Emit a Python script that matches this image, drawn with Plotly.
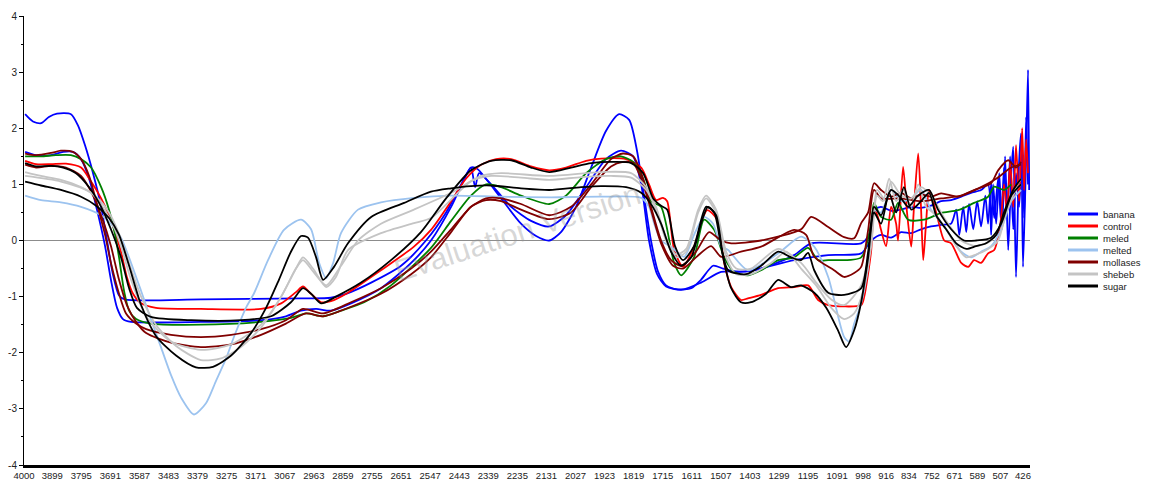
import plotly.graph_objects as go

# Wavenumber tick labels along the bottom axis (cm-1)
tick_wn = [4000, 3899, 3795, 3691, 3587, 3483, 3379, 3275, 3171, 3067, 2963, 2859,
           2755, 2651, 2547, 2443, 2339, 2235, 2131, 2027, 1923, 1819, 1715, 1611,
           1507, 1403, 1299, 1195, 1091, 998, 916, 834, 752, 671, 589, 507, 426]
y_ticks = [4, 3, 2, 1, 0, -1, -2, -3, -4]

# Spectra: (wavenumber, signal) pairs, two replicates for most samples
banana_a = [(3996, 2.25), (3968, 2.12), (3939, 2.09), (3911, 2.2), (3882, 2.26), (3832, 2.25),
            (3807, 2.05), (3782, 1.7), (3753, 1.2), (3724, 0.6), (3703, 0.0), (3682, -0.6),
            (3660, -0.98), (3639, -1.05), (3367, -1.05), (3009, -1.03), (2902, -1.02),
            (2848, -0.95), (2758, -0.75), (2651, -0.45), (2562, 0.0), (2490, 0.5), (2436, 1.0),
            (2401, 1.3), (2379, 1.28), (2347, 1.1), (2293, 0.75), (2222, 0.3), (2168, 0.08),
            (2121, 0.0), (2079, 0.15), (2025, 0.6), (1971, 1.3), (1918, 1.95), (1871, 2.25),
            (1835, 2.15), (1807, 1.6), (1782, 0.8), (1757, 0.0), (1732, -0.55), (1703, -0.8),
            (1660, -0.87), (1613, -0.85), (1578, -0.7), (1535, -0.45), (1499, -0.5),
            (1452, -0.56), (1363, -0.5), (1245, -0.26), (1184, -0.05), (1005, -0.05),
            (977, 0.1), (955, 0.55), (934, 0.6), (898, 0.53), (862, 0.55), (826, 0.6),
            (791, 0.58), (755, 0.62), (719, 0.7), (683, 0.72), (647, 0.78), (612, 0.85),
            (576, 0.9), (551, 1.0), (540, 0.1), (533, 1.0), (522, 0.3), (511, 1.2), (501, 0.2),
            (490, 1.5), (479, -0.17), (468, 1.2), (461, 1.67), (451, -0.65), (440, 1.4),
            (433, 1.91), (426, -0.47), (415, 1.5), (408, 3.04), (404, 0.9)]
banana_b = [(3996, 1.58), (3957, 1.52), (3903, 1.52), (3860, 1.58), (3825, 1.58), (3796, 1.45),
            (3767, 1.1), (3739, 0.55), (3710, -0.1), (3689, -0.7), (3667, -1.2), (3646, -1.4),
            (3617, -1.45), (3367, -1.45), (3152, -1.42), (3063, -1.35), (3009, -1.25),
            (2955, -1.22), (2902, -1.25), (2830, -1.12), (2723, -0.85), (2615, -0.4),
            (2544, 0.0), (2472, 0.6), (2429, 1.05), (2401, 1.3), (2386, 0.95), (2372, 1.2),
            (2329, 1.0), (2257, 0.6), (2186, 0.35), (2121, 0.25), (2061, 0.45), (1989, 0.95),
            (1918, 1.45), (1864, 1.6), (1821, 1.5), (1792, 1.0), (1764, 0.0), (1735, -0.6),
            (1703, -0.82), (1649, -0.88), (1578, -0.75), (1506, -0.56), (1410, -0.55),
            (1245, -0.35), (1123, -0.26), (1005, -0.23), (969, 0.0), (934, 0.1), (898, 0.05),
            (862, 0.15), (826, 0.13), (791, 0.2), (755, 0.25), (719, 0.28), (683, 0.3),
            (665, 0.55), (654, 0.1), (640, 0.6), (629, 0.15), (619, 0.65), (604, 0.2),
            (590, 0.7), (576, 0.25), (561, 0.8), (551, 0.3), (540, 1.02), (529, 0.4),
            (515, 1.1), (504, 0.3), (494, 1.3), (483, 0.5), (472, 1.5), (461, 0.2), (451, 1.2),
            (440, 0.6), (429, 1.6), (422, 0.4), (415, 2.2), (408, 1.0)]
control = [(3996, 1.42), (3957, 1.36), (3903, 1.36), (3850, 1.37), (3796, 1.3), (3760, 1.05),
           (3724, 0.75), (3696, 0.45), (3671, 0.1), (3653, -0.2), (3632, -0.65), (3610, -0.95),
           (3581, -1.12), (3528, -1.2), (3367, -1.22), (3152, -1.22), (3080, -1.12),
           (3027, -0.92), (3002, -0.82), (2973, -0.95), (2937, -1.1), (2902, -1.08),
           (2841, -0.93), (2723, -0.53), (2605, -0.11), (2544, 0.19), (2472, 0.7), (2419, 1.1),
           (2365, 1.35), (2311, 1.45), (2257, 1.45), (2186, 1.32), (2121, 1.25), (2061, 1.3),
           (1989, 1.42), (1935, 1.46), (1846, 1.45), (1792, 1.3), (1764, 1.0), (1739, 0.72),
           (1714, 0.76), (1699, 0.7), (1674, -0.17), (1642, -0.47), (1603, -0.11), (1556, 0.54),
           (1520, 0.37), (1495, -0.4), (1470, -0.83), (1435, -1.06), (1410, -1.03),
           (1363, -0.97), (1302, -0.85), (1245, -0.83), (1195, -0.8), (1159, -1.06),
           (1123, -1.15), (1005, -1.15), (994, -1.0), (969, -0.17), (959, 0.6), (944, 0.4),
           (934, 0.19), (916, -0.1), (898, 0.6), (880, 0.3), (873, 0.0), (855, 1.31),
           (841, 0.5), (826, -0.11), (816, 0.6), (801, 1.55), (791, 0.6), (783, -0.35),
           (773, 0.3), (762, 0.9), (748, 0.7), (730, 0.37), (708, 0.0), (683, -0.05),
           (647, -0.4), (622, -0.47), (601, -0.35), (576, -0.4), (551, -0.23), (529, -0.17),
           (515, 0.06), (504, 0.42), (494, 1.0), (483, 0.5), (472, 1.4), (461, 0.6),
           (451, 1.7), (440, 0.7), (429, 2.0), (422, 0.9), (415, 1.8), (408, 1.2)]
meled = [(3996, 1.5), (3939, 1.5), (3886, 1.52), (3832, 1.52), (3796, 1.45), (3760, 1.3),
         (3724, 0.95), (3696, 0.55), (3674, 0.1), (3660, -0.3), (3642, -0.9), (3624, -1.25),
         (3599, -1.4), (3546, -1.48), (3367, -1.5), (3152, -1.45), (3045, -1.38), (2991, -1.3),
         (2930, -1.35), (2866, -1.25), (2783, -1.1), (2687, -0.8), (2544, -0.13), (2472, 0.35),
         (2401, 0.8), (2347, 1.0), (2293, 0.95), (2222, 0.8), (2121, 0.65), (2061, 0.8),
         (1989, 1.2), (1918, 1.45), (1864, 1.5), (1821, 1.4), (1785, 1.1), (1757, 0.7),
         (1721, 0.6), (1674, -0.4), (1649, -0.62), (1603, -0.3), (1567, 0.37), (1531, 0.19),
         (1495, -0.3), (1460, -0.56), (1410, -0.62), (1363, -0.53), (1302, -0.35),
         (1245, -0.3), (1195, -0.13), (1159, -0.35), (1123, -0.35), (1005, -0.3), (969, 0.31),
         (959, 0.67), (934, 0.42), (898, 0.37), (873, 0.67), (837, 0.37), (780, 0.37),
         (719, 0.49), (658, 0.54), (601, 0.67), (551, 0.78), (529, 0.96), (494, 0.9),
         (468, 1.0)]
melted = [(3996, 0.8), (3939, 0.72), (3868, 0.68), (3796, 0.6), (3724, 0.45), (3689, 0.3),
          (3653, 0.05), (3617, -0.4), (3581, -0.9), (3546, -1.4), (3510, -1.9), (3474, -2.4),
          (3438, -2.8), (3392, -3.1), (3349, -2.9), (3313, -2.5), (3277, -2.1), (3249, -1.72),
          (3206, -1.2), (3177, -0.94), (3127, -0.35), (3070, 0.19), (3009, 0.37), (2973, 0.2),
          (2944, -0.4), (2919, -0.67), (2894, -0.4), (2866, 0.13), (2805, 0.55), (2723, 0.68),
          (2605, 0.76), (2472, 0.8), (2293, 0.78), (2114, 0.77), (1935, 0.78), (1792, 0.76),
          (1764, 0.6), (1746, 0.31), (1721, 0.0), (1685, -0.11), (1638, -0.29), (1603, 0.1),
          (1567, 0.42), (1535, 0.3), (1506, -0.1), (1481, -0.17), (1410, -0.53), (1302, -0.23),
          (1220, 0.07), (1173, -0.11), (1123, -0.65), (1066, -1.72), (1048, -1.8),
          (1030, -1.48), (1005, -1.12), (980, -0.47), (959, 0.54), (934, 0.5), (898, 0.9),
          (862, 0.7), (826, 0.75), (791, 0.9), (755, 0.55), (701, 0.2), (647, -0.2),
          (612, -0.3), (576, -0.2), (540, -0.1), (504, 0.2), (468, 0.7), (433, 0.9)]
mollases_a = [(3996, 1.55), (3957, 1.52), (3903, 1.56), (3868, 1.6), (3825, 1.58), (3796, 1.45),
              (3767, 1.15), (3739, 0.65), (3710, 0.1), (3689, -0.4), (3660, -0.95),
              (3635, -1.3), (3599, -1.48), (3563, -1.58), (3474, -1.68), (3367, -1.72),
              (3259, -1.68), (3152, -1.58), (3063, -1.42), (3002, -1.22), (2930, -1.3),
              (2830, -1.1), (2723, -0.85), (2615, -0.5), (2544, -0.2), (2472, 0.2), (2401, 0.6),
              (2347, 0.75), (2293, 0.75), (2222, 0.65), (2121, 0.45), (2043, 0.6), (1971, 1.0),
              (1900, 1.45), (1857, 1.55), (1821, 1.5), (1792, 1.2), (1757, 0.6), (1721, 0.0),
              (1685, -0.35), (1649, -0.45), (1596, -0.2), (1549, 0.15), (1506, 0.0),
              (1470, -0.05), (1363, 0.0), (1220, 0.2), (1184, 0.42), (1123, 0.24), (1066, 0.06),
              (1030, 0.04), (1005, 0.31), (980, 0.5), (959, 1.02), (934, 0.9), (898, 0.78),
              (862, 0.85), (826, 0.75), (791, 0.82), (755, 0.78), (719, 0.84), (658, 0.78),
              (601, 0.9), (540, 1.02), (515, 1.25), (479, 1.43), (451, 1.3), (433, 1.4)]
mollases_b = [(3996, 1.35), (3957, 1.3), (3903, 1.33), (3850, 1.3), (3796, 1.15), (3753, 0.8),
              (3717, 0.35), (3689, -0.1), (3660, -0.7), (3632, -1.15), (3599, -1.45),
              (3563, -1.65), (3474, -1.82), (3367, -1.9), (3259, -1.85), (3152, -1.68),
              (3063, -1.48), (2991, -1.3), (2930, -1.35), (2830, -1.18), (2723, -0.95),
              (2615, -0.6), (2544, -0.3), (2472, 0.15), (2401, 0.6), (2347, 0.72), (2293, 0.7),
              (2222, 0.55), (2121, 0.38), (2043, 0.5), (1971, 0.95), (1900, 1.32), (1857, 1.4),
              (1821, 1.38), (1792, 1.1), (1757, 0.55), (1721, -0.05), (1678, -0.45),
              (1642, -0.5), (1596, -0.3), (1542, -0.1), (1506, -0.29), (1435, -0.2),
              (1363, -0.11), (1245, 0.19), (1202, 0.1), (1173, -0.29), (1102, -0.53),
              (1066, -0.65), (1030, -0.58), (1005, -0.47), (980, 0.19), (959, 0.9), (934, 0.75),
              (862, 0.75), (791, 0.7), (719, 0.75), (647, 0.8), (576, 0.95), (522, 1.1),
              (468, 1.3), (433, 1.35)]
shebeb_a = [(3996, 1.22), (3939, 1.15), (3868, 1.08), (3796, 0.95), (3742, 0.78), (3696, 0.5),
            (3660, 0.12), (3624, -0.4), (3581, -1.0), (3528, -1.5), (3456, -1.88),
            (3367, -2.13), (3295, -2.1), (3224, -1.9), (3152, -1.55), (3080, -1.0),
            (3027, -0.5), (3002, -0.3), (2966, -0.5), (2919, -0.83), (2884, -0.65),
            (2841, -0.17), (2723, 0.13), (2605, 0.31), (2544, 0.4), (2401, 1.05), (2329, 1.15),
            (2222, 1.12), (2121, 1.08), (2007, 1.13), (1900, 1.15), (1828, 1.12), (1774, 0.9),
            (1739, 0.55), (1703, 0.0), (1667, -0.3), (1631, -0.2), (1588, 0.5), (1560, 0.75),
            (1524, 0.5), (1488, -0.3), (1452, -0.6), (1399, -0.6), (1327, -0.4), (1273, -0.2),
            (1220, -0.5), (1166, -0.8), (1112, -1.2), (1066, -1.4), (1030, -1.3), (998, -0.9),
            (969, -0.1), (948, 0.8), (927, 0.7), (905, 1.1), (880, 0.7), (855, 0.9),
            (826, 0.6), (801, 1.0), (773, 0.6), (737, 0.45), (701, 0.2), (665, -0.1),
            (629, -0.3), (594, -0.25), (551, -0.15), (515, 0.0), (486, 0.5), (451, 0.9),
            (433, 1.0)]
shebeb_b = [(3996, 1.15), (3868, 1.05), (3760, 0.85), (3689, 0.35), (3653, -0.1), (3617, -0.7),
            (3563, -1.35), (3474, -1.8), (3367, -1.95), (3259, -1.85), (3152, -1.5),
            (3080, -1.0), (3027, -0.5), (3002, -0.35), (2966, -0.55), (2919, -0.8),
            (2866, -0.45), (2805, 0.0), (2723, 0.3), (2605, 0.55), (2472, 0.85), (2365, 1.15),
            (2293, 1.2), (2121, 1.15), (1935, 1.22), (1828, 1.2), (1774, 0.95), (1739, 0.6),
            (1703, 0.05), (1667, -0.25), (1631, -0.15), (1588, 0.55), (1560, 0.8),
            (1524, 0.55), (1488, -0.2), (1452, -0.5), (1399, -0.5), (1302, -0.15),
            (1220, -0.4), (1166, -0.75), (1112, -1.05), (1066, -1.15), (1005, -0.8),
            (969, 0.0), (948, 0.9), (916, 0.7), (898, 1.05), (862, 0.8), (826, 0.75),
            (791, 0.95), (755, 0.8), (701, 0.35), (647, 0.0), (594, -0.1), (540, 0.0),
            (504, 0.3), (468, 0.8), (433, 1.1)]
sugar_a = [(3996, 1.38), (3957, 1.32), (3903, 1.33), (3860, 1.3), (3814, 1.2), (3767, 0.95),
           (3724, 0.6), (3689, 0.2), (3653, -0.3), (3624, -0.85), (3596, -1.2), (3546, -1.36),
           (3402, -1.42), (3224, -1.42), (3116, -1.35), (3045, -1.1), (3002, -0.85),
           (2973, -0.95), (2937, -1.12), (2884, -1.0), (2794, -0.75), (2687, -0.35),
           (2580, 0.15), (2490, 0.75), (2401, 1.25), (2329, 1.42), (2257, 1.43), (2186, 1.3),
           (2121, 1.22), (2043, 1.3), (1971, 1.38), (1900, 1.4), (1828, 1.38), (1785, 1.2),
           (1749, 0.75), (1721, 0.62), (1699, 0.55), (1671, -0.1), (1642, -0.35),
           (1603, -0.1), (1560, 0.6), (1531, 0.5), (1506, -0.1), (1481, -0.53), (1417, -0.6),
           (1363, -0.45), (1302, -0.2), (1256, -0.3), (1220, -0.35), (1195, -0.22),
           (1173, -0.53), (1123, -0.93), (1066, -0.97), (1005, -0.85), (980, -0.2), (959, 0.6),
           (934, 0.45), (898, 0.9), (862, 0.75), (837, 0.6), (801, 0.8), (762, 0.9),
           (730, 0.55), (683, 0.2), (637, 0.0), (594, 0.0), (540, 0.05), (504, 0.3),
           (468, 0.8), (433, 1.0)]
sugar_b = [(3996, 1.05), (3939, 0.98), (3868, 0.9), (3796, 0.78), (3742, 0.62), (3696, 0.4),
           (3660, 0.1), (3624, -0.45), (3581, -1.15), (3528, -1.7), (3456, -2.05),
           (3385, -2.26), (3324, -2.25), (3259, -2.05), (3188, -1.65), (3134, -1.2),
           (3088, -0.7), (3045, -0.2), (3009, 0.08), (2984, 0.05), (2955, -0.3), (2930, -0.7),
           (2891, -0.47), (2841, -0.05), (2758, 0.42), (2640, 0.67), (2544, 0.87),
           (2472, 0.93), (2401, 0.97), (2329, 0.98), (2222, 0.93), (2121, 0.9), (2007, 0.95),
           (1935, 0.97), (1846, 0.95), (1792, 0.85), (1757, 0.65), (1721, 0.3), (1685, -0.2),
           (1649, -0.45), (1613, -0.3), (1578, 0.3), (1553, 0.6), (1524, 0.45), (1499, -0.3),
           (1470, -0.85), (1435, -1.1), (1399, -1.1), (1345, -0.95), (1302, -0.7),
           (1256, -0.83), (1220, -0.8), (1173, -0.93), (1130, -1.2), (1088, -1.6),
           (1059, -1.9), (1030, -1.6), (1005, -1.1), (980, -0.3), (959, 0.5), (934, 0.3),
           (905, 0.85), (880, 0.5), (852, 0.95), (826, 0.55), (791, 0.7), (762, 0.85),
           (737, 0.45), (701, 0.2), (665, -0.05), (629, -0.15), (594, -0.1), (558, -0.05),
           (522, 0.1), (494, 0.5), (461, 0.9), (433, 1.1)]

series = [
    ("banana", "#0000ff", [banana_a, banana_b]),
    ("control", "#ff0000", [control]),
    ("meled", "#008000", [meled]),
    ("melted", "#9cc3ef", [melted]),
    ("mollases", "#800000", [mollases_a, mollases_b]),
    ("shebeb", "#c4c4c4", [shebeb_a, shebeb_b]),
    ("sugar", "#000000", [sugar_a, sugar_b]),
]

fig = go.Figure()
for name, color, reps in series:
    for pts in reps:
        fig.add_trace(go.Scatter(
            x=[p[0] for p in pts], y=[p[1] for p in pts], mode="lines", name=name,
            line=dict(color=color, width=1.8, shape="spline", smoothing=0.7),
            showlegend=False, hoverinfo="skip"))

W, H = 1151, 483
ML, MR, MT, MB = 24, 121, 16, 18
pw, ph = W - ML - MR, H - MT - MB
FONT = "Liberation Sans, Arial"


def px_x(px):
    return (px - ML) / pw


def px_y(py):
    return (H - MB - py) / ph


# hand-drawn key: short thick line sample followed by the sample name
shapes, notes = [], []
for i, (name, color, _) in enumerate(series):
    yc = px_y(214 + 12 * i)
    shapes.append(dict(type="line", xref="paper", yref="paper", x0=px_x(1068), x1=px_x(1098),
                       y0=yc, y1=yc, line=dict(color=color, width=3)))
    notes.append(dict(xref="paper", yref="paper", x=px_x(1102), y=yc, text=name,
                      showarrow=False, xanchor="left", yanchor="middle", borderpad=0,
                      font=dict(size=9.5, color="#222222", family=FONT)))

notes.append(dict(xref="paper", yref="paper", x=px_x(517), y=px_y(232),
                  text="Evaluation Version", showarrow=False, textangle=-18,
                  font=dict(size=31, color="rgba(150,150,150,0.38)", family=FONT)))

fig.update_layout(
    width=W, height=H, margin=dict(l=ML, r=MR, t=MT, b=MB, autoexpand=False),
    paper_bgcolor="white", plot_bgcolor="white",
    showlegend=False, shapes=shapes, annotations=notes,
    font=dict(family=FONT, size=10, color="#222222"),
)
fig.update_xaxes(range=[4000, 401], tickmode="array", tickvals=tick_wn,
                 ticktext=[str(v) for v in tick_wn], showgrid=False, zeroline=False,
                 showline=True, linecolor="black", linewidth=3, ticks="", automargin=False,
                 tickfont=dict(size=9.5, color="#222222"))
fig.update_yaxes(range=[-4, 4], tickmode="array", tickvals=y_ticks,
                 ticktext=[str(v) for v in y_ticks], showgrid=False, automargin=False,
                 zeroline=True, zerolinecolor="#8c8c8c", zerolinewidth=1,
                 showline=True, linecolor="black", linewidth=1,
                 ticks="outside", ticklen=4, tickcolor="black",
                 minor=dict(ticks="outside", ticklen=2, dtick=0.5, tickcolor="black"),
                 tickfont=dict(size=10, color="#222222"))

fig.write_html("out.html")
